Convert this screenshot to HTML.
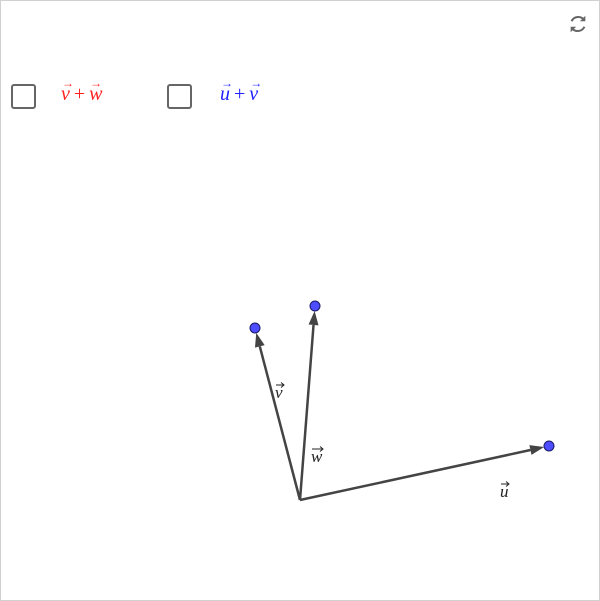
<!DOCTYPE html>
<html><head><meta charset="utf-8"><style>
html,body{margin:0;padding:0;background:#fff;}
#app{position:relative;width:598px;height:599px;border:1px solid #d0d0d0;overflow:hidden;font-family:"Liberation Serif",serif;}
.cb{position:absolute;width:25px;height:25px;border:2px solid #666;border-radius:3px;box-sizing:border-box;top:83px;}
.lbl{position:absolute;top:82px;font-size:20px;white-space:nowrap;}
.vec{position:relative;font-style:italic;display:inline-block;}
.vec::before{content:"\2192";position:absolute;left:1px;top:-7px;font-size:12px;font-style:normal;}
.plus{display:inline-block;margin:0 4px;}
</style></head><body>
<div id="app">
<div class="cb" style="left:10px"></div>
<div class="lbl" style="left:60px;color:#ff2020"><span class="vec">v</span><span class="plus">+</span><span class="vec">w</span></div>
<div class="cb" style="left:166px"></div>
<div class="lbl" style="left:219px;color:#2020ff"><span class="vec">u</span><span class="plus">+</span><span class="vec">v</span></div>
<svg width="22" height="22" viewBox="0 0 24 24" style="position:absolute;left:566px;top:12px">
<path d="M19 8a8 8 0 0 0-14 1M5 16a8 8 0 0 0 14-1" fill="none" stroke="#666" stroke-width="2.2"/>
<path d="M20 3v6h-6z M4 21v-6h6z" fill="#666"/>
</svg>
<svg id="plot" width="598" height="599" style="position:absolute;left:0;top:0"></svg>
</div>
<script>
const vectorNames=["u","v","w"];
const vectorX=[4.98,-0.9,0.3];
const vectorY=[1.08,3.44,3.88];
const ox=299,oy=499,sc=50;
const labelPos=[[200,-3],[-25,-102],[11,-38]];
const sx=x=>ox+x*sc, sy=y=>oy-y*sc;
const svg=document.getElementById('plot');
const NS='http://www.w3.org/2000/svg';
function mk(t,a){const e=document.createElementNS(NS,t);for(const k in a)e.setAttribute(k,a[k]);svg.appendChild(e);return e;}
for(let i=0;i<vectorNames.length;i++){
  const x2=sx(vectorX[i]),y2=sy(vectorY[i]);
  const dx=x2-ox,dy=y2-oy,L=Math.hypot(dx,dy),ux=dx/L,uy=dy/L;
  const tx=x2-ux*5,ty=y2-uy*5;
  const bx=tx-ux*14,by=ty-uy*14;
  const ln=mk('line',{x1:ox,y1:oy,x2:bx,y2:by,stroke:'#444','stroke-width':2.5});
  
  
  const hd=mk('polygon',{points:`${tx},${ty} ${bx-uy*5},${by+ux*5} ${bx+uy*5},${by-ux*5}`,fill:'#444'});
  
  
  const pt=mk('circle',{cx:x2,cy:y2,r:5,fill:'#4d4dff',stroke:'#1a1a66','stroke-width':1});
  
  
  const lx=ox+labelPos[i][0], ly=oy+labelPos[i][1];
  const g=mk('g',{});
  
  
  const t=document.createElementNS(NS,'text');
  t.setAttribute('x',lx);t.setAttribute('y',ly);
  t.setAttribute('font-family','Liberation Serif, serif');t.setAttribute('font-style','italic');
  t.setAttribute('font-size',17);t.setAttribute('fill','#222');
  t.textContent=vectorNames[i];
  g.appendChild(t);
  const a=document.createElementNS(NS,'path');
  const w=vectorNames[i]=='w'?12:9;
  a.setAttribute('d',`M${lx+1} ${ly-13} H${lx+w} M${lx+w-3} ${ly-15.5} L${lx+w} ${ly-13} L${lx+w-3} ${ly-10.5}`);
  a.setAttribute('stroke','#222');a.setAttribute('fill','none');a.setAttribute('stroke-width',1);
  g.appendChild(a);
  svg.appendChild(g);
}
</script>
</body></html>
